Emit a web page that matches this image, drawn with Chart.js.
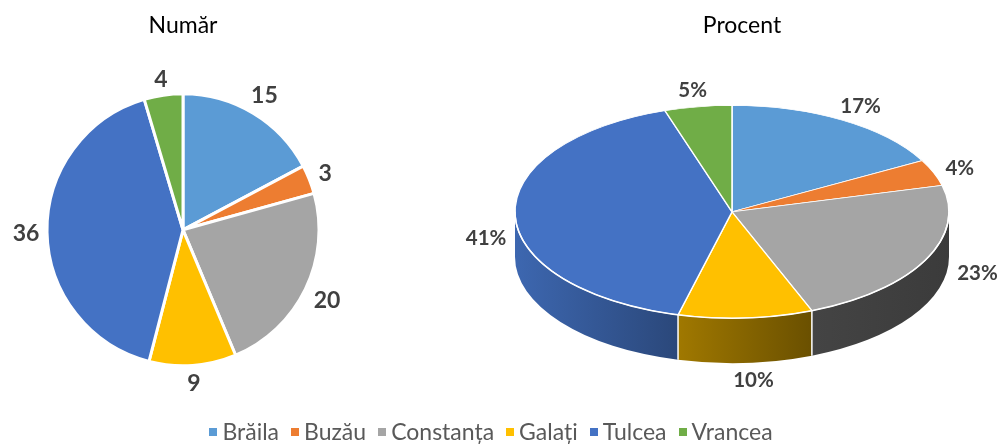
<!DOCTYPE html>
<html>
<head>
    <title>Număr și procent pe județe</title>
    <script src="https://cdn.jsdelivr.net/npm/chart.js"></script>
    <style>
        body {
            margin: 0;
            background: #fff;
            font-family: Lato, sans-serif;
        }
        .wrap {
            position: relative;
            width: 998px;
            height: 444px;
            overflow: hidden;
        }
        .wrap canvas {
            position: absolute;
            left: 0;
            top: 0;
        }
        #legend {
            position: absolute;
            left: 0;
            width: 982px;
            top: 418px;
            display: flex;
            justify-content: center;
            font-size: 23px;
            line-height: 27px;
            color: #595959;
        }
        .item {
            display: flex;
            align-items: center;
            margin: 0 6px;
        }
        .box {
            width: 8px;
            height: 8px;
            margin-right: 5px;
        }
    </style>
</head>
<body>
    <div class="wrap">
        <canvas id="pieNumar" width="998" height="444"></canvas>
        <canvas id="piePocent" width="998" height="444"></canvas>
        <div id="legend"></div>
    </div>

    <script>
        const judete = ['Brăila', 'Buzău', 'Constanța', 'Galați', 'Tulcea', 'Vrancea'];
        const numar = [15, 3, 20, 9, 36, 4];
        const procent = [17, 4, 23, 10, 41, 5];
        const culori = ['#5B9BD5', '#ED7D31', '#A5A5A5', '#FFC000', '#4472C4', '#70AD47'];

        const labelColor = '#404040';

        function darken(hex, f) {
            const n = parseInt(hex.slice(1), 16);
            const r = Math.round(((n >> 16) & 255) * f);
            const g = Math.round(((n >> 8) & 255) * f);
            const b = Math.round((n & 255) * f);
            return `rgb(${r},${g},${b})`;
        }

        // push a label box outwards from (ox, oy) until it is clear of the shape
        function placeOut(ox, oy, dx, dy, w, h, inside, gap) {
            const hit = (px, py) => {
                for (let i = 0; i <= 4; i++) {
                    for (let j = 0; j <= 2; j++) {
                        if (inside(px - w / 2 + w * i / 4, py - h / 2 + h * j / 2)) return true;
                    }
                }
                return false;
            };
            let d = 0;
            while (hit(ox + dx * d, oy + dy * d) && d < 600) d += 1;
            d += gap;
            return [ox + dx * d, oy + dy * d];
        }

        function drawLabel(ctx, text, x, y, size) {
            ctx.save();
            ctx.font = `bold ${size}px Lato`;
            ctx.fillStyle = labelColor;
            ctx.textAlign = 'center';
            ctx.textBaseline = 'alphabetic';
            ctx.fillText(text, x, y + size * 0.36);
            ctx.restore();
        }

        const etichetePie = {
            id: 'etichetePie',
            afterDatasetsDraw(chart, args, o) {
                const ctx = chart.ctx;
                const arcs = chart.getDatasetMeta(0).data;
                const cx = arcs[0].x, cy = arcs[0].y, r = arcs[0].outerRadius + 1.5;
                const inside = (x, y) => (x - cx) ** 2 + (y - cy) ** 2 <= r * r;
                ctx.font = `bold ${o.size}px Lato`;
                arcs.forEach((arc, i) => {
                    const mid = (arc.startAngle + arc.endAngle) / 2;
                    const text = String(numar[i]);
                    const w = ctx.measureText(text).width;
                    const [x, y] = placeOut(cx, cy, Math.cos(mid), Math.sin(mid), w, o.size * 0.72, inside, o.gap);
                    drawLabel(ctx, text, x, y, o.size);
                });
            }
        };

        const pie3d = {
            id: 'pie3d',
            beforeDatasetsDraw(chart, args, o) {
                const ctx = chart.ctx;
                const arcs = chart.getDatasetMeta(0).data;
                const cx = arcs[0].x + o.shiftX, cy = arcs[0].y;
                const rx = arcs[0].outerRadius, ry = rx * o.tilt, h = o.depth;

                // side walls of the front half
                arcs.forEach((arc, i) => {
                    const lo = Math.max(arc.startAngle, 0);
                    const hi = Math.min(arc.endAngle, Math.PI);
                    if (lo >= hi) return;
                    const g = ctx.createLinearGradient(cx - rx, 0, cx + rx, 0);
                    o.shade.forEach(([stop, f]) => g.addColorStop(stop, darken(culori[i], f)));
                    ctx.beginPath();
                    ctx.ellipse(cx, cy, rx, ry, 0, lo, hi);
                    ctx.ellipse(cx, cy + h, rx, ry, 0, hi, lo, true);
                    ctx.closePath();
                    ctx.fillStyle = g;
                    ctx.fill();
                });
                ctx.strokeStyle = '#fff';
                ctx.lineWidth = 1.5;
                arcs.forEach(arc => {
                    const a = arc.endAngle;
                    if (a > 0 && a < Math.PI) {
                        const x = cx + rx * Math.cos(a), y = cy + ry * Math.sin(a);
                        ctx.beginPath();
                        ctx.moveTo(x, y);
                        ctx.lineTo(x, y + h);
                        ctx.stroke();
                    }
                });

                // top face: squash the circle into an ellipse
                ctx.save();
                ctx.translate(cx, cy);
                ctx.scale(1, o.tilt);
                ctx.translate(-arcs[0].x, -cy);
            },
            afterDatasetsDraw(chart, args, o) {
                const ctx = chart.ctx;
                ctx.restore();
                const arcs = chart.getDatasetMeta(0).data;
                const cx = arcs[0].x + o.shiftX, cy = arcs[0].y;
                const rx = arcs[0].outerRadius, ry = rx * o.tilt, h = o.depth;

                ctx.save();
                ctx.strokeStyle = '#fff';
                ctx.lineWidth = 1.5;
                ctx.beginPath();
                ctx.ellipse(cx, cy, rx, ry, 0, 0, Math.PI);
                ctx.stroke();
                ctx.restore();

                const inside = (x, y) => {
                    const u = ((x - cx) / rx) ** 2;
                    return u + ((y - cy) / ry) ** 2 <= 1 ||
                        u + ((y - cy - h) / ry) ** 2 <= 1 ||
                        (u <= 1 && y >= cy && y <= cy + h);
                };
                ctx.font = `bold ${o.size}px Lato`;
                arcs.forEach((arc, i) => {
                    const mid = (arc.startAngle + arc.endAngle) / 2;
                    let dx = rx * Math.cos(mid), dy = ry * Math.sin(mid);
                    const len = Math.hypot(dx, dy);
                    dx /= len; dy /= len;
                    // labels on the left side sit level with the middle of the wall
                    const oy = cy + h / 2 * Math.max(0, -Math.cos(mid)) ** 3;
                    const text = procent[i] + '%';
                    const w = ctx.measureText(text).width;
                    const [x, y] = placeOut(cx, oy, dx, dy, w, o.size * 0.72, inside, o.gap);
                    drawLabel(ctx, text, x, y, o.size);
                });
            }
        };

        const titleFont = { family: 'Lato', size: 23, weight: 'normal' };

        const chartNumar = new Chart(document.getElementById('pieNumar'), {
            type: 'pie',
            data: {
                labels: judete,
                datasets: [{
                    data: numar,
                    backgroundColor: culori,
                    borderColor: '#ffffff',
                    borderWidth: 3,
                    radius: 136
                }]
            },
            options: {
                responsive: false,
                animation: false,
                layout: { padding: { left: 0, right: 632, top: 0, bottom: 44 } },
                plugins: {
                    legend: { display: false },
                    tooltip: { enabled: false },
                    title: {
                        display: true,
                        text: 'Număr',
                        color: '#000',
                        font: titleFont,
                        padding: { top: 12, bottom: 20 }
                    },
                    etichetePie: { size: 23, gap: 6 }
                }
            },
            plugins: [etichetePie]
        });

        new Chart(document.getElementById('piePocent'), {
            type: 'pie',
            data: {
                labels: judete,
                datasets: [{
                    data: procent,
                    backgroundColor: culori,
                    borderColor: '#ffffff',
                    borderWidth: 1.5,
                    radius: 217
                }]
            },
            options: {
                responsive: false,
                animation: false,
                layout: { padding: { left: 486, right: 0, top: 0, bottom: 80 } },
                plugins: {
                    legend: { display: false },
                    tooltip: { enabled: false },
                    title: {
                        display: true,
                        text: 'Procent',
                        color: '#000',
                        font: titleFont,
                        padding: { top: 12, bottom: 20 }
                    },
                    pie3d: {
                        shiftX: -10,
                        tilt: 0.49,
                        depth: 45,
                        size: 20.5,
                        gap: 8,
                        shade: [[0, 0.9], [0.37, 0.63], [0.69, 0.41], [1, 0.36]]
                    }
                }
            },
            plugins: [pie3d]
        });

        // legend built from the chart's own legend items
        const legendEl = document.getElementById('legend');
        chartNumar.options.plugins.legend.labels.generateLabels(chartNumar).forEach(it => {
            const item = document.createElement('div');
            item.className = 'item';
            const box = document.createElement('span');
            box.className = 'box';
            box.style.background = it.fillStyle;
            const txt = document.createElement('span');
            txt.textContent = it.text;
            item.appendChild(box);
            item.appendChild(txt);
            legendEl.appendChild(item);
        });
    </script>
</body>
</html>
